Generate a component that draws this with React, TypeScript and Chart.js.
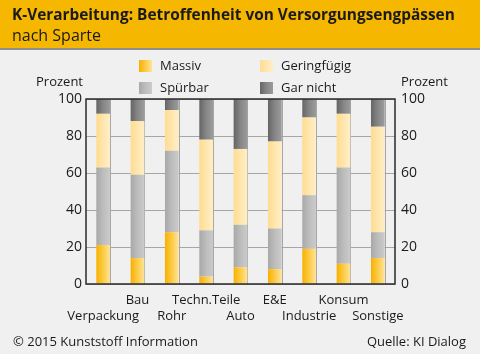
import React, { useEffect, useRef } from "react";
import { Chart, registerables } from "chart.js";

Chart.register(...registerables);

const categories = ["Verpackung", "Bau", "Rohr", "Techn.Teile", "Auto", "E&E", "Industrie", "Konsum", "Sonstige"];
const massiv = [21, 14, 28, 4, 9, 8, 19, 11, 14];
const spuerbar = [42, 45, 44, 25, 23, 22, 29, 52, 14];
const geringfuegig = [29, 29, 22, 49, 41, 47, 42, 29, 57];
const garNicht = [8, 12, 6, 22, 27, 23, 10, 8, 15];
const yTicks = [0, 20, 40, 60, 80, 100];

const title = "K-Verarbeitung: Betroffenheit von Versorgungsengpässen";
const subtitle = "nach Sparte";
const yTitle = "Prozent";
const footerLeft = "© 2015 Kunststoff Information";
const footerRight = "Quelle: KI Dialog";

const FONT = "'Open Sans', 'Noto Sans', sans-serif";

const palettes: Record<string, string[]> = {
  Massiv: ["#F7B000", "#FCCB45", "#FFE39A"],
  "Spürbar": ["#A8A8A8", "#BDBDBD", "#CBCBCB"],
  "Geringfügig": ["#FFDC8E", "#FFE6AE", "#FFEEC6"],
  "Gar nicht": ["#656565", "#868686", "#9C9C9C"],
};

function makeGrad(ctx: CanvasRenderingContext2D, x0: number, x1: number, stops: string[]) {
  const g = ctx.createLinearGradient(x0, 0, x1, 0);
  g.addColorStop(0, stops[0]);
  g.addColorStop(0.5, stops[1]);
  g.addColorStop(1, stops[2]);
  return g;
}

const BAR_PCT = 0.4;

function barBg(name: string) {
  return (c: any) => {
    const chart = c.chart;
    const xs = chart.scales && chart.scales.x;
    if (!xs || c.dataIndex === undefined) return palettes[name][1];
    const cx = xs.getPixelForValue(c.dataIndex);
    const w = (xs.width / categories.length) * BAR_PCT;
    if (!isFinite(cx) || !isFinite(w) || w <= 0) return palettes[name][1];
    return makeGrad(chart.ctx, cx - w / 2, cx + w / 2, palettes[name]);
  };
}

const decorPlugin = {
  id: "decor",
  beforeDraw(chart: any) {
    const ctx = chart.ctx as CanvasRenderingContext2D;
    const W = chart.width;
    const H = chart.height;
    ctx.save();
    ctx.fillStyle = "#F0F0F0";
    ctx.fillRect(0, 0, W, H);
    ctx.fillStyle = "#F5B700";
    ctx.fillRect(0, 0, W, 48);
    ctx.fillStyle = "#8E8E8E";
    ctx.fillRect(0, 48, W, 2);

    ctx.fillStyle = "#1A1A1A";
    ctx.textBaseline = "alphabetic";
    ctx.textAlign = "left";
    ctx.font = `bold 15.4px ${FONT}`;
    ctx.fillText(title, 12, 20);
    ctx.font = `16px ${FONT}`;
    ctx.fillText(subtitle, 12, 41);

    ctx.font = `13px ${FONT}`;
    ctx.textBaseline = "middle";
    ctx.fillStyle = "#1A1A1A";
    ctx.textAlign = "right";
    ctx.fillText(yTitle, 83, 82);
    ctx.textAlign = "left";
    ctx.fillText(yTitle, 401, 82);

    const items = [
      { name: "Massiv", x: 139, y: 60 },
      { name: "Geringfügig", x: 260, y: 60 },
      { name: "Spürbar", x: 139, y: 82 },
      { name: "Gar nicht", x: 260, y: 82 },
    ];
    for (const it of items) {
      ctx.fillStyle = makeGrad(ctx, it.x, it.x + 13, palettes[it.name]);
      ctx.fillRect(it.x, it.y, 13, 12);
      ctx.fillStyle = "#1A1A1A";
      ctx.textAlign = "left";
      ctx.fillText(it.name, it.x + 21, it.y + 6);
    }

    ctx.textBaseline = "alphabetic";
    ctx.textAlign = "left";
    ctx.fillText(footerLeft, 13, 346);
    ctx.textAlign = "right";
    ctx.fillText(footerRight, 466, 346);
    ctx.restore();
  },
  beforeDatasetsDraw(chart: any) {
    const ctx = chart.ctx as CanvasRenderingContext2D;
    const xs = chart.scales.x;
    const area = chart.chartArea;
    const w = (xs.width / categories.length) * BAR_PCT;
    ctx.save();
    ctx.strokeStyle = "#A6A6A6";
    ctx.lineWidth = 1;
    categories.forEach((_, i) => {
      const x = Math.round(xs.getPixelForValue(i) + w / 2) + 0.5;
      ctx.beginPath();
      ctx.moveTo(x, area.top);
      ctx.lineTo(x, area.bottom);
      ctx.stroke();
    });
    ctx.restore();
  },
  afterDatasetsDraw(chart: any) {
    const ctx = chart.ctx as CanvasRenderingContext2D;
    const a = chart.chartArea;
    ctx.save();
    ctx.strokeStyle = "#2A2A2A";
    ctx.lineWidth = 1.5;
    ctx.strokeRect(a.left, a.top, a.right - a.left, a.bottom - a.top);
    ctx.restore();
  },
};

export default function App() {
  const ref = useRef<HTMLCanvasElement | null>(null);
  useEffect(() => {
    document.body.style.margin = "0";
    const canvas = ref.current!;
    const mk = (label: string, data: number[]) => ({
      label,
      data,
      backgroundColor: barBg(label),
      borderWidth: 0,
      barPercentage: BAR_PCT,
      categoryPercentage: 1,
    });
    const tickFont = { family: FONT, size: 14 };
    const chart = new Chart(canvas, {
      type: "bar",
      data: {
        labels: categories,
        datasets: [
          mk("Massiv", massiv),
          mk("Spürbar", spuerbar),
          mk("Geringfügig", geringfuegig),
          mk("Gar nicht", garNicht),
        ],
      },
      options: {
        animation: false,
        responsive: false,
        devicePixelRatio: 1,
        layout: { padding: { left: 0, right: 0, top: 99, bottom: 0 } },
        plugins: { legend: { display: false }, tooltip: { enabled: false } },
        scales: {
          x: {
            stacked: true,
            grid: { display: false, drawTicks: false },
            border: { display: false },
            afterFit: (s: any) => { s.height = 70; },
            ticks: {
              color: "#1A1A1A",
              font: { family: FONT, size: 13, lineHeight: 1.27 },
              padding: 8,
              autoSkip: false,
              maxRotation: 0,
              minRotation: 0,
              callback: (_v: any, i: number) => (i % 2 === 0 ? ["", categories[i]] : [categories[i]]),
            },
          },
          y: {
            stacked: true,
            position: "left",
            min: 0,
            max: 100,
            afterFit: (s: any) => { s.width = 86; },
            afterBuildTicks: (s: any) => { s.ticks = yTicks.map((v) => ({ value: v })); },
            grid: { color: "#A6A6A6", drawTicks: false, lineWidth: 1 },
            border: { display: false },
            ticks: { color: "#1A1A1A", font: tickFont, padding: 4 },
          },
          y2: {
            stacked: true,
            position: "right",
            min: 0,
            max: 100,
            afterFit: (s: any) => { s.width = 85; },
            afterBuildTicks: (s: any) => { s.ticks = yTicks.map((v) => ({ value: v })); },
            grid: { display: false, drawTicks: false },
            border: { display: false },
            ticks: { color: "#1A1A1A", font: tickFont, padding: 6 },
          },
        },
      },
      plugins: [decorPlugin],
    });
    return () => chart.destroy();
  }, []);
  return (
    <div style={{ width: 480, height: 354 }}>
      <canvas ref={ref} width={480} height={354} style={{ width: 480, height: 354, display: "block" }} />
    </div>
  );
}
